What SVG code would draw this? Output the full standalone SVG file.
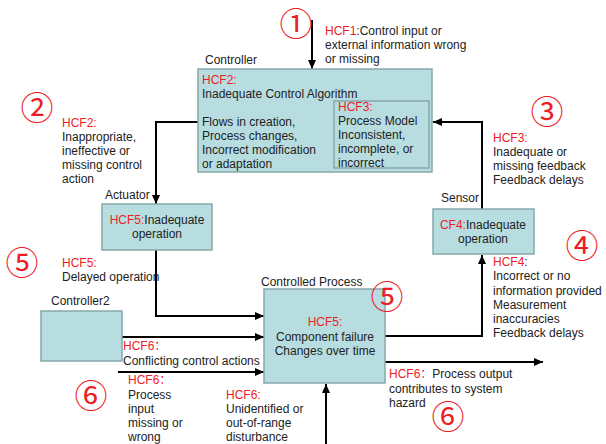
<svg xmlns="http://www.w3.org/2000/svg" width="606" height="444" viewBox="0 0 606 444">
<defs>
<marker id="arr" markerUnits="userSpaceOnUse" markerWidth="9" markerHeight="8" refX="9" refY="4" orient="auto"><path d="M0,0 L9,4 L0,8 z" fill="#000"/></marker>
<style>
text{font-family:"Liberation Sans","Noto Sans CJK SC",sans-serif;font-size:12px;fill:#222}
.r{fill:#ee1c24}
.c{text-anchor:middle}
.box{fill:#b7dde1;stroke:#86a9aa;stroke-width:1.5}
.n{font-family:"Liberation Serif","Noto Sans CJK JP",serif;font-size:33px;fill:#ee1c24}
.ln{fill:none;stroke:#000;stroke-width:2;marker-end:url(#arr)}
</style>
</defs>
<rect width="606" height="444" fill="#fff"/>
<g id="connectors">
<path class="ln" d="M312,20 V69"/>
<path class="ln" d="M198,122 H156 V204"/>
<path class="ln" d="M156,250 V316 H264"/>
<path class="ln" d="M122,337 H264"/>
<path class="ln" d="M118,372 H264"/>
<path class="ln" d="M326,444 V384"/>
<path class="ln" d="M385,362 H543"/>
<path class="ln" d="M385,336 H482 V255"/>
<path class="ln" d="M482,209 V122 H433"/>
</g>
<g id="controller">
<text x="205" y="64">Controller</text>
<rect class="box" x="198" y="69" width="234" height="103"/>
<text x="202" y="84" class="r">HCF2:</text>
<text x="202" y="98">Inadequate Control Algorithm</text>
<text x="202" y="126">Flows in creation,</text>
<text x="202" y="140">Process changes,</text>
<text x="202" y="154">Incorrect modification</text>
<text x="202" y="168">or adaptation</text>
</g>
<g id="process-model">
<rect class="box" x="334" y="101" width="95" height="67"/>
<text x="338" y="111" class="r">HCF3:</text>
<text x="338" y="125">Process Model</text>
<text x="338" y="139">Inconsistent,</text>
<text x="338" y="153">incomplete, or</text>
<text x="338" y="167">incorrect</text>
</g>
<g id="actuator">
<text x="105" y="199">Actuator</text>
<rect class="box" x="102" y="204" width="110" height="46"/>
<text x="157" y="224" class="c"><tspan class="r">HCF5:</tspan>Inadequate</text>
<text x="157" y="238" class="c">operation</text>
</g>
<g id="sensor">
<text x="441" y="202">Sensor</text>
<rect class="box" x="433" y="209" width="101" height="45"/>
<text x="483" y="229" class="c"><tspan class="r">CF4:</tspan>Inadequate</text>
<text x="483" y="243" class="c">operation</text>
</g>
<g id="controller2">
<text x="51" y="305">Controller2</text>
<rect class="box" x="41" y="311" width="81" height="50"/>
</g>
<g id="controlled-process">
<text x="261" y="286">Controlled Process</text>
<rect class="box" x="264" y="289" width="121" height="94"/>
<text x="325" y="326" class="c r">HCF5:</text>
<text x="325" y="341" class="c">Component failure</text>
<text x="325" y="355" class="c">Changes over time</text>
</g>
<g id="labels">
<text x="325" y="35"><tspan class="r">HCF1</tspan>:Control input or</text>
<text x="325" y="49">external information wrong</text>
<text x="325" y="63">or missing</text>
<text x="62" y="127" class="r">HCF2:</text>
<text x="62" y="141">Inappropriate,</text>
<text x="62" y="155">ineffective or</text>
<text x="62" y="169">missing control</text>
<text x="62" y="183">action</text>
<text x="493" y="142" class="r">HCF3:</text>
<text x="493" y="156">Inadequate or</text>
<text x="493" y="170">missing feedback</text>
<text x="493" y="184">Feedback delays</text>
<text x="493" y="266"><tspan class="r">HCF4</tspan>:</text>
<text x="493" y="280">Incorrect or no</text>
<text x="493" y="295">information provided</text>
<text x="493" y="309">Measurement</text>
<text x="493" y="323">inaccuracies</text>
<text x="493" y="337">Feedback delays</text>
<text x="62" y="267" class="r">HCF5:</text>
<text x="62" y="281">Delayed operation</text>
<text x="123" y="350" class="r">HCF6：</text>
<text x="123" y="365">Conflicting control actions</text>
<text x="128" y="384" class="r">HCF6：</text>
<text x="128" y="399">Process</text>
<text x="128" y="413">input</text>
<text x="128" y="427">missing or</text>
<text x="128" y="441">wrong</text>
<text x="226" y="399" class="r">HCF6:</text>
<text x="226" y="413">Unidentified or</text>
<text x="226" y="427">out-of-range</text>
<text x="226" y="441">disturbance</text>
<text x="389" y="378"><tspan class="r">HCF6：</tspan>Process output</text>
<text x="389" y="393">contributes to system</text>
<text x="389" y="407">hazard</text>
</g>
<g id="numbers">
<text class="n c" x="296" y="36">①</text>
<text class="n c" x="37" y="120">②</text>
<text class="n c" x="547" y="124">③</text>
<text class="n c" x="582" y="258">④</text>
<text class="n c" x="22" y="275">⑤</text>
<text class="n c" x="387" y="309">⑤</text>
<text class="n c" x="91" y="408">⑥</text>
<text class="n c" x="448" y="429">⑥</text>
</g>
</svg>
